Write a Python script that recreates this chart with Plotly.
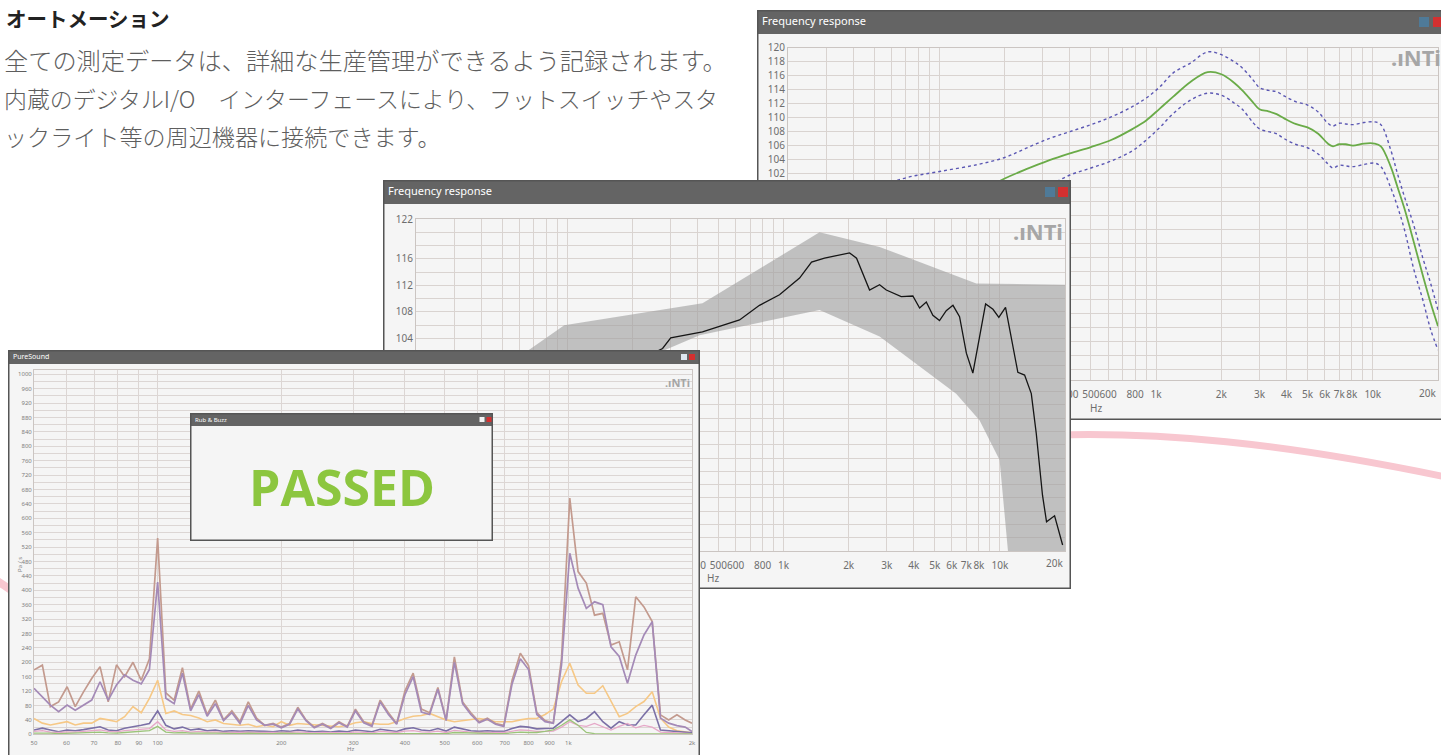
import math
import plotly.graph_objects as go

W, H = 1441, 755

# ---------------- data: back window "Frequency response" ----------------
fr1_freq = [20, 30, 50, 70, 100, 150, 200, 250, 320, 400, 500, 620, 780, 900, 1040, 1200, 1440, 1730,
            2000, 2290, 2500, 2800, 3000, 3300, 3600, 3900, 4400, 5000, 5600, 6200, 6550, 7000, 7500,
            8100, 9100, 10200, 10900, 12100, 13000, 14000, 15500, 17000, 18500, 20000]
fr1_mean = [88, 91, 94, 96, 97.5, 99.3, 101.3, 102.6, 103.9, 104.9, 105.8, 106.8, 108.4, 109.6, 111.3,
            113.0, 115.1, 116.5, 116.2, 115.0, 113.9, 112.2, 111.2, 110.9, 110.5, 109.9, 109.1, 108.6,
            107.7, 106.3, 105.9, 106.2, 106.2, 106.0, 106.3, 106.3, 105.9, 103.0, 100.1, 97.0, 92.1,
            87.5, 83.5, 80.2]
fr1_upper = [94, 97, 99.8, 101.4, 102.3, 103.3, 104.3, 105.6, 107.0, 108.0, 109.0, 110.1, 111.6, 112.8,
             114.4, 116.4, 117.8, 119.4, 119.0, 118.0, 117.1, 115.4, 114.3, 113.9, 113.7, 113.1, 112.3,
             111.8, 110.8, 109.2, 108.8, 109.2, 109.1, 109.0, 109.3, 109.4, 109.0, 105.4, 102.0, 98.7,
             94.5, 90.0, 86.3, 82.5]
fr1_lower = [84, 87, 90, 92, 94, 96, 97.5, 98.8, 100.3, 101.8, 102.8, 103.8, 105.3, 106.8, 108.6, 110.6,
             112.5, 113.5, 113.2, 112.1, 111.2, 109.3, 108.4, 108.0, 107.7, 107.0, 106.2, 105.7, 104.8,
             103.4, 102.8, 103.2, 103.1, 103.0, 103.3, 103.5, 103.0, 100.0, 97.3, 94.0, 88.2, 84.0,
             79.7, 76.8]

# ---------------- data: middle window "Frequency response" ----------------
fr2_freq = [20, 50, 100, 200, 250, 276, 301, 366, 422, 626, 774, 958, 1186, 1347, 1547, 2019, 2175,
            2498, 2779, 2985, 3500, 3960, 4256, 4570, 4900, 5260, 5650, 6070, 6510, 7000, 7500, 8060,
            8590, 9290, 9890, 10620, 11290, 12110, 13010, 13970, 14730, 15740, 16430, 17900, 19500]
fr2_level = [93, 96, 98.5, 100.5, 101.8, 102.5, 104.1, 104.6, 105.0, 106.8, 109.0, 110.6, 113.1, 115.5,
             116.1, 116.9, 116.1, 111.3, 112.1, 111.3, 110.3, 110.4, 108.6, 109.5, 107.5, 106.7, 108.2,
             109.0, 107.3, 101.8, 98.8, 104.3, 109.2, 108.4, 107.2, 108.7, 104.3, 98.9, 98.5, 95.7,
             89.7, 80.4, 76.4, 77.3, 72.9]
fr2_band_hi_freq = [20, 40, 66.7, 96.9, 422, 1467, 2780, 7780, 20000]
fr2_band_hi = [92, 97, 102.3, 106.0, 109.3, 120.0, 117.8, 112.3, 112.1]
fr2_band_lo_freq = [20000, 10900, 9970, 8050, 6280, 2780, 1467, 409, 100, 20]
fr2_band_lo = [72, 72, 85.7, 91.7, 95.7, 104.3, 108.3, 104.5, 96, 88]

fr_tick_vals = [20, 30, 40, 50, 60, 70, 80, 90, 100, 200, 300, 400, 500, 600, 700, 800, 900,
                1000, 2000, 3000, 4000, 5000, 6000, 7000, 8000, 9000, 10000, 20000]
fr_tick_text = ["20", "30", "40", "50", "60", "", "80", "", "100", "200", "300", "400", "500", "600",
                "", "800", "", "1k", "2k", "3k", "4k", "5k", "6k", "7k", "8k", "", "10k", "20k"]

# ---------------- data: PureSound window ----------------
ps_freq = [50, 52.4, 54.8, 57.4, 60.2, 63.0, 66.0, 69.1, 72.4, 75.8, 79.4, 83.1, 87.1, 91.2, 95.5,
           100, 104.7, 109.7, 114.9, 120.3, 126.0, 132.0, 138.2, 144.7, 151.6, 158.7, 166.2, 174.1,
           182.3, 191.0, 200, 209.5, 219.4, 229.7, 240.6, 252.0, 263.9, 276.4, 289.5, 303.1, 317.5,
           332.5, 348.2, 364.7, 381.9, 400, 418.9, 438.7, 459.5, 481.2, 504.0, 527.8, 552.8, 578.9,
           606.3, 635.0, 665.0, 696.4, 729.4, 763.9, 800, 837.8, 877.5, 919.0, 962.4, 1008, 1056,
           1106, 1158, 1213, 1270, 1330, 1393, 1459, 1528, 1600, 1676, 1755, 1838, 1925, 2000]
ps_brown = [179, 192, 77, 90, 132, 77, 118, 155, 188, 90, 193, 160,
            200, 150, 210, 545,
            115, 95, 185, 70, 120, 55, 95, 40, 65, 35, 90, 45, 25, 30, 20,
            30, 75, 40, 20, 30, 18, 35, 22, 70, 35, 25, 95, 60, 30, 120, 170, 70, 60, 130, 40, 215, 90,
            60, 35, 45, 30, 25, 150, 225, 190,
            60, 38, 31, 211, 656, 452, 420, 331, 336, 248, 257, 179, 382, 354, 313, 54, 40, 54, 40, 31]
ps_purple = [128, 104, 81, 63, 81, 67, 81, 95, 146, 95, 137, 165,
             150, 140, 180, 423,
             100, 85, 170, 65, 110, 50, 85, 38, 60, 30, 80, 40, 25, 28, 18,
             28, 70, 38, 18, 28, 16, 32, 20, 65, 32, 22, 90, 55, 28, 110, 160, 62, 55, 125, 38, 200, 85,
             55, 32, 42, 28, 22, 140, 210, 180,
             55, 35, 31, 193, 503, 406, 350, 368, 360, 243, 216, 142, 220, 276, 313, 45, 31, 24, 20, 8]
ps_orange = [44, 31, 26, 31, 35, 26, 31, 31, 44, 40, 35, 49,
             77, 60, 100, 150,
             58, 65, 55, 52, 45, 35, 40, 30, 28, 25, 28, 21, 25, 21, 35,
             25, 30, 28, 28, 26, 24, 21, 25, 32, 35, 30, 28, 28, 35, 44, 50, 52, 58, 50, 40, 35, 38,
             42, 44, 40, 35, 35, 35, 40, 44,
             44, 55, 70, 146, 197, 137, 114, 114, 135, 91, 49, 58, 77, 91, 118, 45, 20, 10, 6, 4]
ps_dark = [12, 17, 12, 7, 12, 10, 13, 17, 21, 12, 10, 17,
           20, 25, 30, 65,
           25, 15, 20, 12, 15, 10, 12, 8, 10, 8, 10, 8, 8, 7, 10,
           8, 12, 9, 7, 8, 6, 9, 7, 12, 9, 7, 14, 10, 8, 15, 18, 12, 10, 16, 9, 20, 14,
           10, 8, 10, 8, 8, 16, 22, 20,
           15, 16, 17, 35, 54, 35, 44, 63, 35, 17, 35, 26, 26, 54, 81, 12, 10, 8, 6, 4]
ps_pink = [8, 10, 6, 5, 7, 6, 8, 10, 12, 8, 7, 10,
           12, 14, 16, 35,
           12, 8, 10, 6, 8, 6, 7, 5, 6, 5, 6, 5, 5, 4, 6,
           5, 7, 5, 4, 5, 4, 5, 4, 7, 5, 4, 8, 6, 5, 9, 10, 7, 6, 9, 5, 11, 8,
           6, 5, 6, 5, 5, 9, 12, 11,
           8, 8, 9, 20, 35, 25, 22, 30, 20, 12, 22, 30, 18, 25, 20, 6, 5, 4, 3, 2]
ps_green = [3, 4, 3, 2, 3, 3, 4, 5, 6, 4, 3, 5,
            6, 8, 10, 22,
            6, 4, 5, 3, 4, 3, 3, 2, 3, 2, 3, 2, 2, 2, 3,
            2, 3, 2, 2, 2, 2, 2, 2, 3, 2, 2, 3, 3, 2, 4, 4, 3, 3, 4, 2, 5, 4,
            3, 2, 3, 2, 2, 4, 6, 5,
            5, 8, 12, 25, 40, 25, 5, 2, 1, 1, 1, 1, 1, 1, 1, 1, 1, 1, 1, 1]
ps_tick_vals = [50, 60, 70, 80, 90, 100, 200, 300, 400, 500, 600, 700, 800, 900, 1000, 2000]
ps_tick_text = ["50", "60", "70", "80", "90", "100", "200", "300", "400", "500", "600", "700",
                "800", "900", "1k", "2k"]

# ---------------- layout constants ----------------
BG = '#f5f5f5'
BAR = '#646464'
BORDER = '#555555'
GRID = '#d9d3d0'
AXLINE = '#cbc5c2'
TICKC = '#6e6e6e'
FONT = 'Noto Sans'


def xd(a, b):
    return [a / W, b / W]


def yd(top, bottom):
    return [1 - bottom / H, 1 - top / H]


fig = go.Figure()
layout = dict(width=W, height=H, margin=dict(l=0, r=0, t=0, b=0, pad=0, autoexpand=False),
              paper_bgcolor='white', plot_bgcolor=BG, showlegend=False, hovermode=False,
              autosize=False)


def hidden_axes(n, box):
    x0, y0, x1, y1 = box
    layout[f'xaxis{n}'] = dict(domain=xd(x0, x1), range=[x0, x1], visible=False, automargin=False,
                               anchor=f'y{n}', fixedrange=True)
    layout[f'yaxis{n}'] = dict(domain=yd(y0, y1), range=[y1, y0], visible=False, automargin=False,
                               anchor=f'x{n}', fixedrange=True)


def add_frame(n, box, bar, border, icons, icon_size, title, title_size):
    x0, y0, x1, y1 = box
    hidden_axes(n, box)
    ax = dict(xaxis=f'x{n}', yaxis=f'y{n}', hoverinfo='skip', showlegend=False)
    fig.add_trace(go.Scatter(x=[x0, x1, x1, x0, x0], y=[y0, y0, y0 + bar, y0 + bar, y0],
                             fill='toself', fillcolor=BAR, mode='lines', line=dict(width=0), **ax))
    bx, by = zip(*border)
    fig.add_trace(go.Scatter(x=list(bx), y=list(by), mode='lines',
                             line=dict(color=BORDER, width=3), **ax))
    for (ix, col) in icons:
        fig.add_trace(go.Scatter(x=[ix], y=[y0 + bar / 2], mode='markers',
                                 marker=dict(symbol='square', size=icon_size, color=col,
                                             line=dict(width=0)), **ax))
    fig.add_trace(go.Scatter(x=[x0 + 5], y=[y0 + bar / 2 + 0.5], mode='text', text=[title],
                             textposition='middle right',
                             textfont=dict(color='white', size=title_size, family=FONT), **ax))


# subplot 1: base, overlapping every window so that each window paints its own background
hidden_axes(1, (480, 360, 800, 430))
layout['xaxis'] = layout.pop('xaxis1')
layout['yaxis'] = layout.pop('yaxis1')
layout['xaxis']['anchor'] = 'y'
layout['yaxis']['anchor'] = 'x'
fig.add_trace(go.Scatter(x=[600], y=[400], mode='markers', marker=dict(opacity=0),
                         xaxis='x', yaxis='y', hoverinfo='skip'))

# ---- window 1 (back, top right) ----
W1 = (757, 10, 1441, 420)
add_frame(2, W1, 24, [(1441, 420), (757, 420), (757, 10), (1441, 10)],
          [(1424, '#4f7a98'), (1438, '#d33030')], 10, 'Frequency response', 11)


def fr_axes(n, plot, yrange, yvals, ytext, xtext):
    x0, y0, x1, y1 = plot
    layout[f'xaxis{n}'] = dict(domain=xd(x0, x1), type='log',
                               range=[math.log10(20), math.log10(20000)], anchor=f'y{n}',
                               tickmode='array', tickvals=fr_tick_vals, ticktext=xtext,
                               tickangle=0, automargin=False,
                               showgrid=True, gridcolor=GRID, gridwidth=1, zeroline=False,
                               showline=True, mirror=True, linecolor=AXLINE, ticks='',
                               ticklabelstandoff=5,
                               tickfont=dict(size=10, color=TICKC, family=FONT), fixedrange=True)
    layout[f'yaxis{n}'] = dict(domain=yd(y0, y1), range=yrange, anchor=f'x{n}',
                               tickmode='array', tickvals=yvals, ticktext=ytext, automargin=False,
                               showgrid=True, gridcolor=GRID, gridwidth=1, zeroline=False,
                               showline=True, mirror=True, linecolor=AXLINE, ticks='',
                               tickfont=dict(size=10, color=TICKC, family=FONT), fixedrange=True)


# labels hidden behind the front windows and the shifted last label are left empty here
def visible_xtext(min_val):
    return [t if (min_val <= v < 20000) else '' for v, t in zip(fr_tick_vals, fr_tick_text)]


y1vals = list(range(74, 121, 2))
fr_axes(3, (788, 47.7, 1438, 380), [72.5, 120], y1vals,
        [str(v) if v >= 102 else '' for v in y1vals], visible_xtext(400))
ax3 = dict(xaxis='x3', yaxis='y3', hoverinfo='skip', showlegend=False)
fig.add_trace(go.Scatter(x=fr1_freq, y=fr1_upper, mode='lines', line_shape='spline',
                         line=dict(color='#5b57b3', width=1.4, dash='dot'), **ax3))
fig.add_trace(go.Scatter(x=fr1_freq, y=fr1_lower, mode='lines', line_shape='spline',
                         line=dict(color='#5b57b3', width=1.4, dash='dot'), **ax3))
fig.add_trace(go.Scatter(x=fr1_freq, y=fr1_mean, mode='lines', line_shape='spline',
                         line=dict(color='#6aab48', width=1.8), **ax3))

# ---- window 2 (middle) ----
W2 = (383, 180, 1071, 589)
add_frame(4, W2, 24, [(383, 180), (1071, 180), (1071, 589), (383, 589), (383, 180)],
          [(1050, '#4f7a98'), (1063, '#d33030')], 10, 'Frequency response', 11)
y2vals = list(range(72, 123, 2))
y2text = [str(v) if (v == 122 or (104 <= v <= 116 and v % 4 == 0)) else '' for v in y2vals]
fr_axes(5, (416, 219, 1065, 551), [72, 122], y2vals, y2text, visible_xtext(400))
ax5 = dict(xaxis='x5', yaxis='y5', hoverinfo='skip', showlegend=False)
fig.add_trace(go.Scatter(x=fr2_band_hi_freq + fr2_band_lo_freq, y=fr2_band_hi + fr2_band_lo,
                         fill='toself', fillcolor='rgba(160,160,160,0.62)', mode='lines',
                         line=dict(width=0), **ax5))
fig.add_trace(go.Scatter(x=fr2_freq, y=fr2_level, mode='lines',
                         line=dict(color='#151515', width=1.3), **ax5))

# ---- window 3 (PureSound, front left) ----
W3 = (8, 350, 700, 755)
add_frame(6, W3, 14, [(8, 760), (8, 350), (700, 350), (700, 760)],
          [(684, '#dde6f0'), (692, '#d33030')], 6, 'PureSound', 7)
ps_yvals = list(range(0, 1001, 20))
ps_ytext = [str(v) if v % 40 == 0 else '' for v in ps_yvals]
layout['xaxis7'] = dict(domain=xd(34, 692), type='log', range=[math.log10(50), math.log10(2000)],
                        anchor='y7', tickmode='array', tickvals=ps_tick_vals, ticktext=ps_tick_text,
                        tickangle=0, automargin=False,
                        showgrid=True, gridcolor='#dcd6d4', gridwidth=1, zeroline=False,
                        showline=True, mirror=True, linecolor=AXLINE, ticks='',
                        ticklabelstandoff=2,
                        tickfont=dict(size=6, color='#808080', family=FONT), fixedrange=True)
layout['yaxis7'] = dict(domain=yd(370, 734.3), range=[0, 1012], anchor='x7', tickmode='array',
                        tickvals=ps_yvals, ticktext=ps_ytext, showgrid=True, gridcolor='#dcd6d4',
                        gridwidth=1, zeroline=False, showline=True, mirror=True, automargin=False,
                        linecolor=AXLINE, ticks='',
                        tickfont=dict(size=6, color='#808080', family=FONT), fixedrange=True)
ax7 = dict(xaxis='x7', yaxis='y7', hoverinfo='skip', showlegend=False)
for vals, col, wd in [(ps_orange, '#f6c886', 1.6), (ps_brown, '#c39a8e', 1.7),
                      (ps_purple, '#a48ab7', 1.7), (ps_dark, '#7b70a6', 1.6),
                      (ps_pink, '#e6a8c8', 1.3), (ps_green, '#9cc47a', 1.3)]:
    fig.add_trace(go.Scatter(x=ps_freq, y=vals, mode='lines', line=dict(color=col, width=wd), **ax7))

# ---- window 4 (Rub & Buzz popup) ----
W4 = (190, 413, 493, 541)
add_frame(8, W4, 13, [(190, 413), (493, 413), (493, 541), (190, 541), (190, 413)],
          [(482, '#f2f2f2'), (489, '#d33030')], 5, 'Rub &amp; Buzz', 6)


def px(x, y):
    return x / W, 1 - y / H


annotations = []


def note(text, x, y, size, color, xanchor='left', family=FONT, angle=0):
    ax_, ay_ = px(x, y)
    annotations.append(dict(text=text, x=ax_, y=ay_, xref='paper', yref='paper', showarrow=False,
                            xanchor=xanchor, yanchor='middle', textangle=angle,
                            font=dict(size=size, color=color, family=family)))


JP = 'Noto Sans CJK JP Light, Noto Sans CJK JP DemiLight, Noto Sans CJK JP'
note('<b>オートメーション</b>', 4, 18, 20.5, '#222222', family='Noto Sans CJK JP')
note('全ての測定データは、詳細な生産管理ができるよう記録されます。', 2, 59, 24.2, '#5e5e5e', family=JP)
note('内蔵のデジタルI/O　インターフェースにより、フットスイッチやスタ', 2, 98, 22.9, '#5e5e5e', family=JP)
note('ックライト等の周辺機器に接続できます。', 2, 136, 23.1, '#5e5e5e', family=JP)

note('<b>.ıNTi</b>', 1443, 57, 22, '#a6a6a6', xanchor='right')
note('<b>.ıNTi</b>', 1065, 231, 22, '#a6a6a6', xanchor='right')
note('<b>.ıNTi</b>', 692, 383, 11, '#a6a6a6', xanchor='right')
note('20k', 1438, 393, 10, TICKC, xanchor='right')
note('20k', 1065, 563, 10, TICKC, xanchor='right')
note('Hz', 1096, 408, 10, TICKC, xanchor='center')
note('Hz', 713, 578, 10, TICKC, xanchor='center')
note('Hz', 350, 749, 6, '#808080', xanchor='center')
note('Pa / s', 20, 565, 6, '#808080', xanchor='center', angle=-90)
note('<b>PASSED</b>', 342, 487, 50, '#8cc63f', xanchor='center', family='Open Sans')
layout['annotations'] = annotations


def ppath(points):
    parts = []
    for cmd, pts in points:
        coords = ' '.join('%.5f,%.5f' % px(a, b) for a, b in pts)
        parts.append(cmd + ' ' + coords)
    return ' '.join(parts)


layout['shapes'] = [
    dict(type='path', xref='paper', yref='paper', layer='below',
         path=ppath([('M', [(1000, 438)]), ('C', [(1150, 426), (1300, 446), (1460, 480)])]),
         line=dict(color='#f8c7d0', width=7)),
    dict(type='path', xref='paper', yref='paper', layer='below',
         path=ppath([('M', [(-30, 566)]), ('C', [(-5, 578), (12, 590), (40, 612)])]),
         line=dict(color='#f8c7d0', width=8)),
]

fig.update_layout(**layout)
fig.write_html('out.html', config={'displayModeBar': False},
               post_script="document.body.style.margin='0';"
                           "document.documentElement.style.overflow='hidden';"
                           "document.body.style.overflow='hidden';")
